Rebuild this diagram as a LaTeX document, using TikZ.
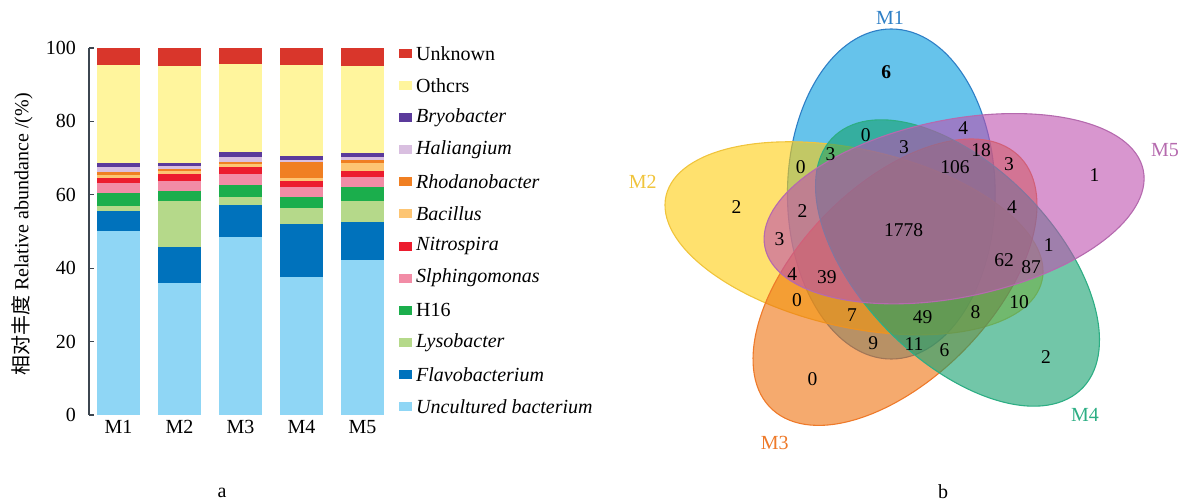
\documentclass[tikz,border=0pt]{standalone}
\usepackage{fontspec}
\setmainfont{Liberation Serif}
\newfontfamily\cjk{Noto Sans CJK SC}
\usepackage{tikz}
\usetikzlibrary{calc}
% bar colours, from the bottom of a bar upwards
\definecolor{col1}{HTML}{8FD6F5}
\definecolor{col2}{HTML}{0072BC}
\definecolor{col3}{HTML}{B5D98A}
\definecolor{col4}{HTML}{1BAE4C}
\definecolor{col5}{HTML}{F28CA6}
\definecolor{col6}{HTML}{EC1C2E}
\definecolor{col7}{HTML}{FDC573}
\definecolor{col8}{HTML}{F07F22}
\definecolor{col9}{HTML}{D9BFE0}
\definecolor{col10}{HTML}{5B3A9B}
\definecolor{col11}{HTML}{FFF59D}
\definecolor{col12}{HTML}{D9362B}
\definecolor{axisgray}{HTML}{3C4650}
% venn colours
\definecolor{mOne}{RGB}{0,155,222}
\definecolor{mOneLine}{RGB}{46,127,198}
\definecolor{mTwo}{RGB}{255,205,13}
\definecolor{mTwoLine}{RGB}{240,196,60}
\definecolor{mThree}{RGB}{238,113,13}
\definecolor{mThreeLine}{RGB}{238,122,42}
\definecolor{mFour}{RGB}{20,160,110}
\definecolor{mFourLine}{RGB}{45,174,132}
\definecolor{mFive}{RGB}{190,80,175}
\definecolor{mFiveLine}{RGB}{181,106,174}

\begin{document}
\begin{tikzpicture}[x=1pt,y=1pt,
  lbl/.style={font=\fontsize{20}{24}\selectfont, inner sep=0pt},
  num/.style={font=\fontsize{19.5}{23}\selectfont, inner sep=0pt},
  vset/.style={fill opacity=0.6, line width=1.1pt},
  axisline/.style={draw=axisgray, line width=1.1pt}]
\useasboundingbox (0,0) rectangle (1179,501);

% a: stacked bars
\draw[axisline] (89,86) -- (89,453);
\foreach \v in {0,20,...,100} {
  \draw[axisline] (89,86+3.67*\v) -- (94,86+3.67*\v);
  \node[lbl, anchor=east] (tick\v) at (76,86+3.67*\v) {\v};
}
\begin{scope}[yshift=86pt, y=3.67pt]
\foreach \xx/\tops [count=\n] in {
    97/{50,55.5,57,60.4,63.1,64.5,65.3,66.1,67.6,68.7,95.5,100},
    158/{35.9,45.7,58.2,60.9,63.8,65.6,66.5,67.0,67.8,68.7,95.2,100},
    219/{48.5,57.3,59.3,62.7,65.6,67.7,68.4,69.0,70.2,71.6,95.7,100},
    280/{37.5,52,56.5,59.3,62.2,63.8,64.6,68.9,69.5,70.6,95.5,100},
    341/{42.3,52.7,58.2,62.2,64.9,66.6,68.8,69.4,70.2,71.3,95.0,100}} {
  \foreach \t [count=\k, remember=\t as \b (initially 0)] in \tops
    \fill[col\k] (\xx,\b) rectangle (\xx+43,\t);
  \node[lbl] (bar\n) at (\xx+21.5,-3.27) {M\n};
}
\end{scope}
\node[lbl, rotate=90] (ylab) at (22,266.5) {{\cjk 相对丰度} Relative abundance /(\%)};

% legend
\foreach \name [count=\k] in {\textit{Uncultured bacterium}, \textit{Flavobacterium},
    \textit{Lysobacter}, H16, \textit{Slphingomonas}, \textit{Nitrospira},
    \textit{Bacillus}, \textit{Rhodanobacter}, \textit{Haliangium},
    \textit{Bryobacter}, Othcrs, Unknown} {
  \fill[col\k] (399,89.8+32.13*\k-32.13) rectangle ++(13,9);
  \node[lbl, anchor=west] (leg\k) at (416,94.3+32.13*\k-32.13) {\name};
}
\node[lbl] (pa) at (222,8.5) {a};

% b: venn
\filldraw[vset, fill=mOne, draw=mOneLine, shift={(891.3,307)}, xscale=1.18, rotate=90]
  (0,0) ellipse [x radius=165, y radius=88];
\filldraw[vset, fill=mTwo, draw=mTwoLine, shift={(854,262.7)}, xscale=1.18, rotate=-16.5]
  (0,0) ellipse [x radius=165, y radius=88];
\filldraw[vset, fill=mThree, draw=mThreeLine, shift={(895,218.8)}, xscale=1.18, rotate=54]
  (0,0) ellipse [x radius=165, y radius=88];
\filldraw[vset, fill=mFour, draw=mFourLine, shift={(957.5,238)}, xscale=1.18, rotate=-54]
  (0,0) ellipse [x radius=165, y radius=88];
\filldraw[vset, fill=mFive, draw=mFiveLine, shift={(954.1,292.3)}, xscale=1.18, rotate=15]
  (0,0) ellipse [x radius=165, y radius=88];

\node[lbl, text=mOneLine] (m1) at (890,482.7) {M1};
\node[lbl, text=mTwoLine] (m2) at (642.8,319.3) {M2};
\node[lbl, text=mThreeLine] (m3) at (774.7,57.7) {M3};
\node[lbl, text=mFourLine] (m4) at (1085,86) {M4};
\node[lbl, text=mFiveLine] (m5) at (1165,351) {M5};

\node[num, font=\fontsize{19.5}{23}\selectfont\bfseries] (n0) at (886.2,429.3) {6};
\foreach \v/\px/\py [count=\k] in {
    0/865.8/366, 4/963.2/372.7, 3/904.1/354.3, 18/981/351, 3/830.5/347,
    0/800.7/334.3, 106/955/333.7, 3/1008.9/337, 1/1094.4/326, 2/736.4/293.7,
    2/802.6/290.3, 4/1011.9/294.3, 1778/903.7/271, 3/779.6/261.7, 1/1048.7/256,
    62/1004.1/241, 87/1031.2/234.3, 4/792.2/227, 39/826.8/223.7, 0/797/201,
    10/1019/199.3, 7/852/186, 49/922.7/184.3, 8/975.5/189.3, 9/873.2/157.7,
    11/914.1/156.7, 6/944.6/151, 0/812.6/121.7, 2/1046.1/143.7}
  \node[num] (n\k) at (\px,\py) {\v};
\node[lbl] (pb) at (943,9) {b};
\end{tikzpicture}
\end{document}
